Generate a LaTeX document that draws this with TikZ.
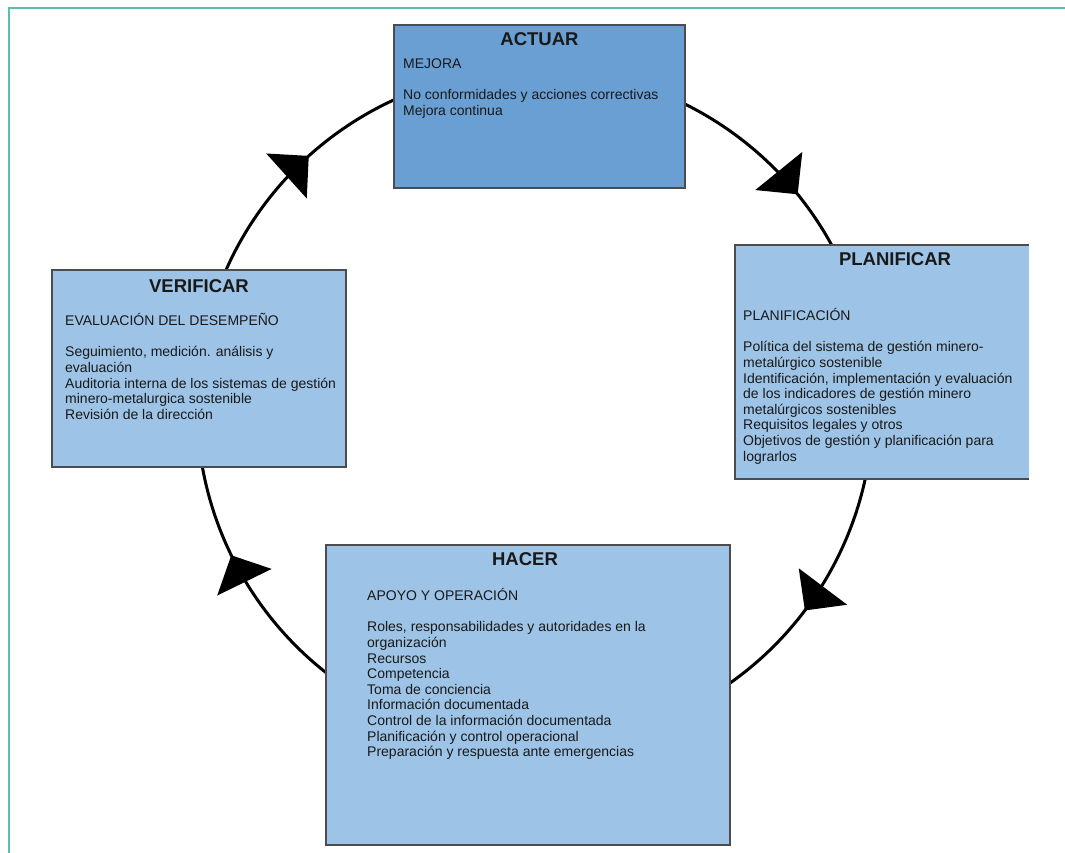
\documentclass[tikz,border=0pt]{standalone}
\usepackage{fontspec}
\setmainfont{Liberation Sans}
\usepackage{xcolor}
\usetikzlibrary{arrows.meta,decorations.markings}

\definecolor{actfill}{RGB}{106,159,212}
\definecolor{boxfill}{RGB}{157,195,230}
\definecolor{frameteal}{RGB}{90,190,180}
\newcommand{\firstln}{\rule{0pt}{14pt}}

\begin{document}
\begin{tikzpicture}[x=1pt,y=1pt,
  box/.style={draw=black!70,line width=1.2pt,fill=boxfill,inner sep=0pt,outer sep=0pt,anchor=north west},
  edge/.style={draw=black!70,line width=1.2pt},
  ttl/.style={font=\fontsize{18.5}{20}\selectfont\bfseries,anchor=base,inner sep=0pt,text=black!90},
  txt/.style={font=\fontsize{14}{15.6}\selectfont,align=left,anchor=north west,inner sep=0pt,text=black!90},
  cyc/.style={line width=3pt,postaction={decorate},
    decoration={markings,mark=at position #1 with {\arrow{Triangle[length=30pt,width=60pt]}}}}]
  \useasboundingbox (0,0) rectangle (1065,-853);
  \draw[frameteal,line width=1.2pt] (9,-853) -- (9,-8) -- (1065,-8);
  \coordinate (c) at (535,-407);
  \draw[cyc=0.704] (c) ++(63.65:338) arc[start angle=63.65,end angle=28.64,radius=338];
  \draw[cyc=0.582] (c) ++(-12.3:338) arc[start angle=-12.3,end angle=-54.76,radius=338];
  \draw[cyc=0.620] (c) ++(231.8:338) arc[start angle=231.8,end angle=190.22,radius=338];
  \draw[cyc=0.581] (c) ++(156.09:338) arc[start angle=156.09,end angle=114.66,radius=338];

  \node[box,fill=actfill,minimum width=291pt,minimum height=163pt] (act) at (394,-25) {};
  \node[box,draw=none,minimum width=294pt,minimum height=234pt] (plan) at (735,-245) {};
  \draw[edge] (plan.north east) -- (plan.north west) -- (plan.south west) -- (plan.south east);
  \node[box,minimum width=294pt,minimum height=197pt] (verif) at (52,-270) {};
  \node[box,minimum width=404pt,minimum height=300pt] (hacer) at (326,-545) {};

  \node[ttl] (actT) at ([yshift=-21pt]act.north) {ACTUAR};
  \node[ttl] (planT) at ([xshift=13pt,yshift=-20pt]plan.north) {PLANIFICAR};
  \node[ttl] (verifT) at ([yshift=-22pt]verif.north) {VERIFICAR};
  \node[ttl] (hacerT) at ([xshift=-3pt,yshift=-20pt]hacer.north) {HACER};

  \node[txt] (actB) at ([xshift=9pt,yshift=-29pt]act.north west)
    {\firstln MEJORA\\[16pt]No conformidades y acciones correctivas\\Mejora continua};
  \node[txt] (planB) at ([xshift=8pt,yshift=-61pt]plan.north west)
    {\firstln PLANIFICACIÓN\\[16pt]Política del sistema de gestión minero-\\metalúrgico sostenible\\
     Identificación, implementación y evaluación\\de los indicadores de gestión minero\\
     metalúrgicos sostenibles\\Requisitos legales y otros\\
     Objetivos de gestión y planificación para\\lograrlos};
  \node[txt] (verifB) at ([xshift=13pt,yshift=-41pt]verif.north west)
    {\firstln EVALUACIÓN DEL DESEMPEÑO\\[16pt]Seguimiento, medición. análisis y\\evaluación\\
     Auditoria interna de los sistemas de gestión\\minero-metalurgica sostenible\\
     Revisión de la dirección};
  \node[txt] (hacerB) at ([xshift=41pt,yshift=-41pt]hacer.north west)
    {\firstln APOYO Y OPERACIÓN\\[16pt]Roles, responsabilidades y autoridades en la\\organización\\
     Recursos\\Competencia\\Toma de conciencia\\Información documentada\\
     Control de la información documentada\\Planificación y control operacional\\
     Preparación y respuesta ante emergencias};
\end{tikzpicture}
\end{document}
